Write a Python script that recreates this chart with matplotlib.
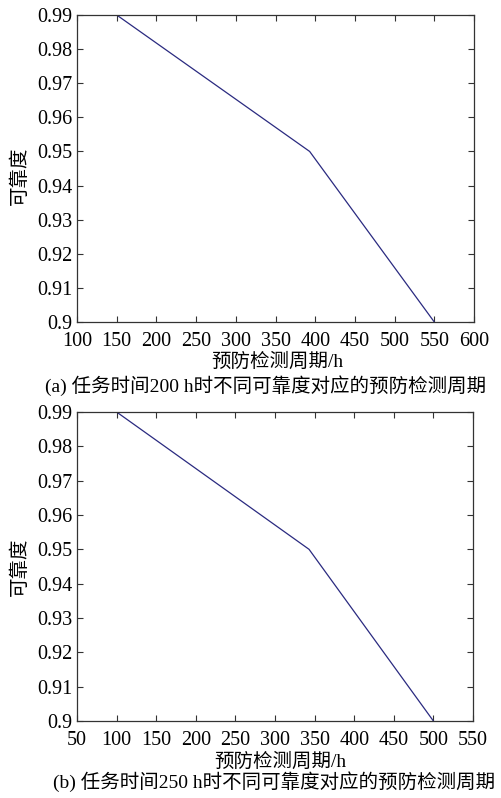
import matplotlib
matplotlib.use("Agg")
import matplotlib.pyplot as plt

plt.rcParams["font.family"] = ["Liberation Serif", "Noto Sans CJK SC"]

# data
period_a = [150, 393, 550]
rel_a = [0.99, 0.95, 0.90]
xticks_a = [100, 150, 200, 250, 300, 350, 400, 450, 500, 550, 600]

period_b = [100, 343, 500]
rel_b = [0.99, 0.95, 0.90]
xticks_b = [50, 100, 150, 200, 250, 300, 350, 400, 450, 500, 550]

yticks = [0.90, 0.91, 0.92, 0.93, 0.94, 0.95, 0.96, 0.97, 0.98, 0.99]
ytick_labels = ["0.9", "0.91", "0.92", "0.93", "0.94", "0.95", "0.96", "0.97", "0.98", "0.99"]

xlabel = "预防检测周期/h"
ylabel = "可靠度"
caption_a = "(a) 任务时间200 h时不同可靠度对应的预防检测周期"
caption_b = "(b) 任务时间250 h时不同可靠度对应的预防检测周期"

W, H = 501, 798
fig = plt.figure(figsize=(W / 100, H / 100), dpi=100)


def panel(left, top, right, bottom, xs, ys, xticks):
    ax = fig.add_axes([left / W, 1 - bottom / H, (right - left) / W, (bottom - top) / H])
    ax.plot(xs, ys, color="#2a2a80", linewidth=0.9)
    ax.set_xlim(xticks[0], xticks[-1])
    ax.set_ylim(0.90, 0.99)
    ax.set_xticks(xticks)
    ax.set_yticks(yticks)
    ax.set_yticklabels(ytick_labels)
    ax.tick_params(direction="in", top=True, right=True, length=4, width=0.8,
                   labelsize=14.5, color="#333333")
    ax.tick_params(axis="x", pad=7)
    ax.tick_params(axis="y", pad=3)
    for s in ax.spines.values():
        s.set_linewidth(0.9)
        s.set_color("#333333")
    return ax


panel(77, 15, 474, 322, period_a, rel_a, xticks_a)
fig.text(20 / W, 1 - 176 / H, ylabel, rotation=90, ha="center", va="center", fontsize=14)
fig.text(277 / W, 1 - 362 / H, xlabel, ha="center", va="center", fontsize=14)
fig.text(45 / W, 1 - 386 / H, caption_a, ha="left", va="center", fontsize=14)

panel(77, 412, 473, 721, period_b, rel_b, xticks_b)
fig.text(20 / W, 1 - 567 / H, ylabel, rotation=90, ha="center", va="center", fontsize=14)
fig.text(280 / W, 1 - 762 / H, xlabel, ha="center", va="center", fontsize=14)
fig.text(53 / W, 1 - 782 / H, caption_b, ha="left", va="center", fontsize=14)

fig.savefig("out.png", dpi=100, facecolor="white")
